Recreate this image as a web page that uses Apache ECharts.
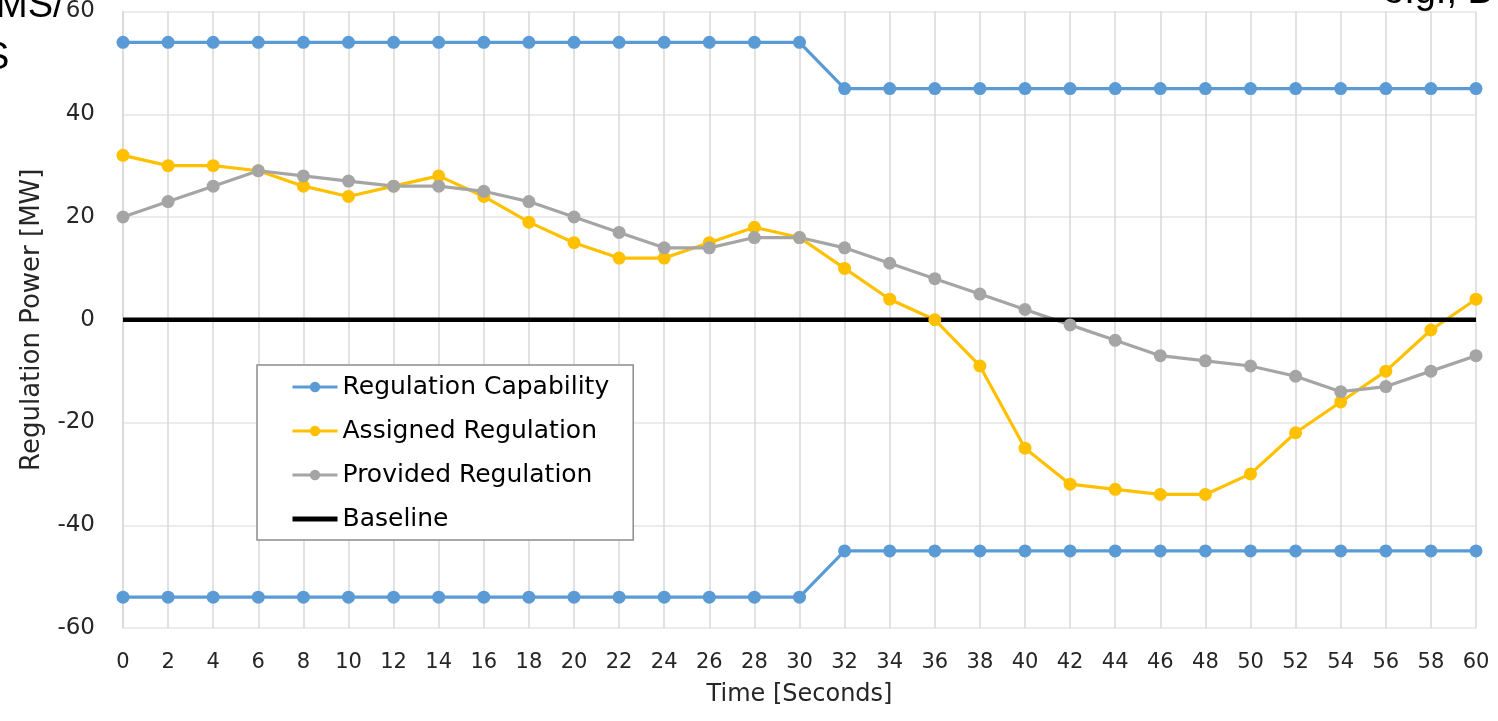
<!DOCTYPE html>
<html>
<head>
<meta charset="utf-8">
<script src="https://cdn.jsdelivr.net/npm/echarts@6/dist/echarts.min.js"></script>
<style>
  html, body { margin: 0; padding: 0; background: #fff; }
  #chart { width: 1498px; height: 721px; }
</style>
</head>
<body>
<div id="chart"></div>
<script>
  // time axis (seconds)
  var seconds = [0, 2, 4, 6, 8, 10, 12, 14, 16, 18, 20, 22, 24, 26, 28, 30,
                 32, 34, 36, 38, 40, 42, 44, 46, 48, 50, 52, 54, 56, 58, 60];

  var capabilityUpper = [54, 54, 54, 54, 54, 54, 54, 54, 54, 54, 54, 54, 54, 54, 54, 54,
                         45, 45, 45, 45, 45, 45, 45, 45, 45, 45, 45, 45, 45, 45, 45];
  var capabilityLower = [-54, -54, -54, -54, -54, -54, -54, -54, -54, -54, -54, -54, -54, -54, -54, -54,
                         -45, -45, -45, -45, -45, -45, -45, -45, -45, -45, -45, -45, -45, -45, -45];
  var assigned = [32, 30, 30, 29, 26, 24, 26, 28, 24, 19, 15, 12, 12, 15, 18, 16,
                  10, 4, 0, -9, -25, -32, -33, -34, -34, -30, -22, -16, -10, -2, 4];
  var provided = [20, 23, 26, 29, 28, 27, 26, 26, 25, 23, 20, 17, 14, 14, 16, 16,
                  14, 11, 8, 5, 2, -1, -4, -7, -8, -9, -11, -14, -13, -10, -7];
  var baseline = [0, 0, 0, 0, 0, 0, 0, 0, 0, 0, 0, 0, 0, 0, 0, 0,
                  0, 0, 0, 0, 0, 0, 0, 0, 0, 0, 0, 0, 0, 0, 0];

  var yTicks = { min: -60, max: 60, interval: 20 };
  var xTicks = { min: 0, max: 60, interval: 2 };

  function pairs(values) {
    return seconds.map(function (t, i) { return [t, values[i]]; });
  }

  var font = '"DejaVu Sans"';
  var blue = '#5b9bd5', gold = '#ffc000', grey = '#a5a5a5';

  function dotted(name, values, color) {
    return {
      name: name,
      type: 'line',
      data: pairs(values),
      symbol: 'circle',
      symbolSize: 13,
      showAllSymbol: true,
      itemStyle: { color: color },
      lineStyle: { color: color, width: 3.2 },
      emphasis: { disabled: true },
      animation: false
    };
  }

  var myChart = echarts.init(document.getElementById('chart'));
  myChart.setOption({
    backgroundColor: '#fff',
    grid: { left: 123, right: 22, top: 10, bottom: 93 },
    xAxis: {
      type: 'value',
      min: xTicks.min, max: xTicks.max, interval: xTicks.interval,
      name: 'Time [Seconds]',
      nameLocation: 'middle',
      nameGap: 55,
      nameTextStyle: { fontFamily: font, fontSize: 24, color: '#262626' },
      axisLine: { show: true, lineStyle: { color: '#d9d9d9', width: 1.5 } },
      axisTick: { show: false },
      axisLabel: { fontFamily: font, fontSize: 21, color: '#262626', margin: 24 },
      splitLine: { show: true, lineStyle: { color: '#d9d9d9', width: 1.5 } }
    },
    yAxis: {
      type: 'value',
      min: yTicks.min, max: yTicks.max, interval: yTicks.interval,
      name: 'Regulation Power [MW]',
      nameLocation: 'middle',
      nameGap: 78,
      nameTextStyle: { fontFamily: font, fontSize: 26, color: '#262626' },
      axisLine: { show: true, lineStyle: { color: '#d9d9d9', width: 1.5 } },
      axisTick: { show: false },
      axisLabel: { fontFamily: font, fontSize: 23, color: '#262626', margin: 28 },
      splitLine: { show: true, lineStyle: { color: '#e6e6e6', width: 1.5 } }
    },
    legend: {
      orient: 'vertical',
      left: 257, top: 365,
      padding: [9, 24, 8, 33],
      itemWidth: 45, itemHeight: 13, itemGap: 18,
      backgroundColor: '#fff',
      borderColor: '#8c8c8c', borderWidth: 1.5,
      lineStyle: { width: 3 },
      textStyle: { fontFamily: font, fontSize: 25, color: '#000', lineHeight: 26 },
      data: [
        'Regulation Capability',
        'Assigned Regulation',
        'Provided Regulation',
        { name: 'Baseline', itemStyle: { opacity: 0 }, lineStyle: { width: 5 } }
      ]
    },
    series: [
      dotted('Regulation Capability', capabilityUpper, blue),
      dotted('Regulation Capability', capabilityLower, blue),
      dotted('Assigned Regulation', assigned, gold),
      dotted('Provided Regulation', provided, grey),
      {
        name: 'Baseline',
        type: 'line',
        data: pairs(baseline),
        symbol: 'none',
        itemStyle: { color: '#000' },
        lineStyle: { color: '#000', width: 4.5 },
        emphasis: { disabled: true },
        animation: false
      }
    ],
    graphic: [
      { type: 'text', left: -4, top: -12,
        style: { text: 'MS/', font: '38px "Liberation Sans"', fill: '#000' } },
      { type: 'text', left: -16, top: 40,
        style: { text: 'S', font: '38px "Liberation Sans"', fill: '#000' } },
      { type: 'text', left: 1383, top: -26,
        style: { text: 'e.g., B', font: '38px "Liberation Sans"', fill: '#000' } }
    ]
  });
</script>
</body>
</html>
